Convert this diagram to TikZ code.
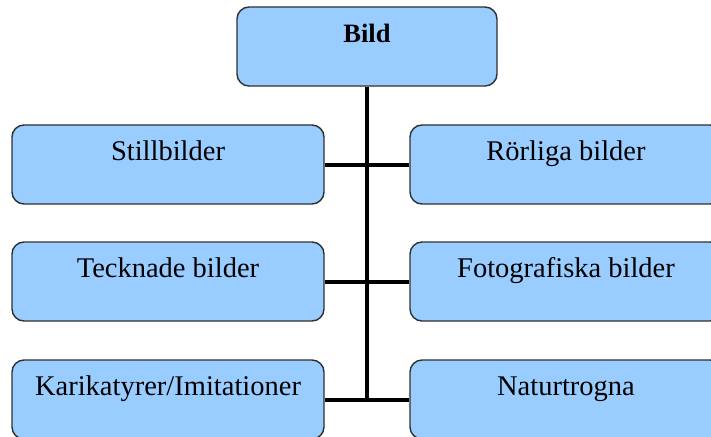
\documentclass[tikz,border=0pt]{standalone}
\usepackage{fontspec}
\setmainfont{Liberation Serif}
\definecolor{boxfill}{HTML}{99CCFF}
\definecolor{boxline}{HTML}{303030}
\begin{document}
\begin{tikzpicture}[x=1pt,y=-1pt,
  box/.style={draw=boxline, line width=1.4pt, fill=boxfill, rounded corners=12pt,
    minimum width=312pt, inner xsep=0pt, inner ysep=0pt,
    text height=35pt, text depth=44pt,
    font=\fontsize{28.5}{32}\selectfont},
  vline/.style={line width=4.6pt},
  hline/.style={line width=4pt}]
\useasboundingbox (0,0) rectangle (711,436);
\clip (0,0) rectangle (711,436);
\fill[white] (0,0) rectangle (711,436);
\node[box, minimum width=260pt, font=\fontsize{26.5}{30}\selectfont\bfseries] (bild) at (367,46.5) {Bild};
\node[box] (still) at (168,164.5) {Stillbilder};
\node[box] (rorl) at (566,164.5) {Rörliga bilder};
\node[box] (teck) at (168,281.5) {Tecknade bilder};
\node[box] (foto) at (566,281.5) {Fotografiska bilder};
\node[box] (kari) at (168,399.5) {Karikatyrer/Imitationer};
\node[box] (natur) at (566,399.5) {Naturtrogna};
\coordinate (j3) at (367,399.5);
\draw[vline] (bild.south) -- ([yshift=2pt]j3);
\draw[hline] (still.east) -- (rorl.west);
\draw[hline] (teck.east) -- (foto.west);
\draw[hline] (kari.east) -- (natur.west);
\end{tikzpicture}
\end{document}
